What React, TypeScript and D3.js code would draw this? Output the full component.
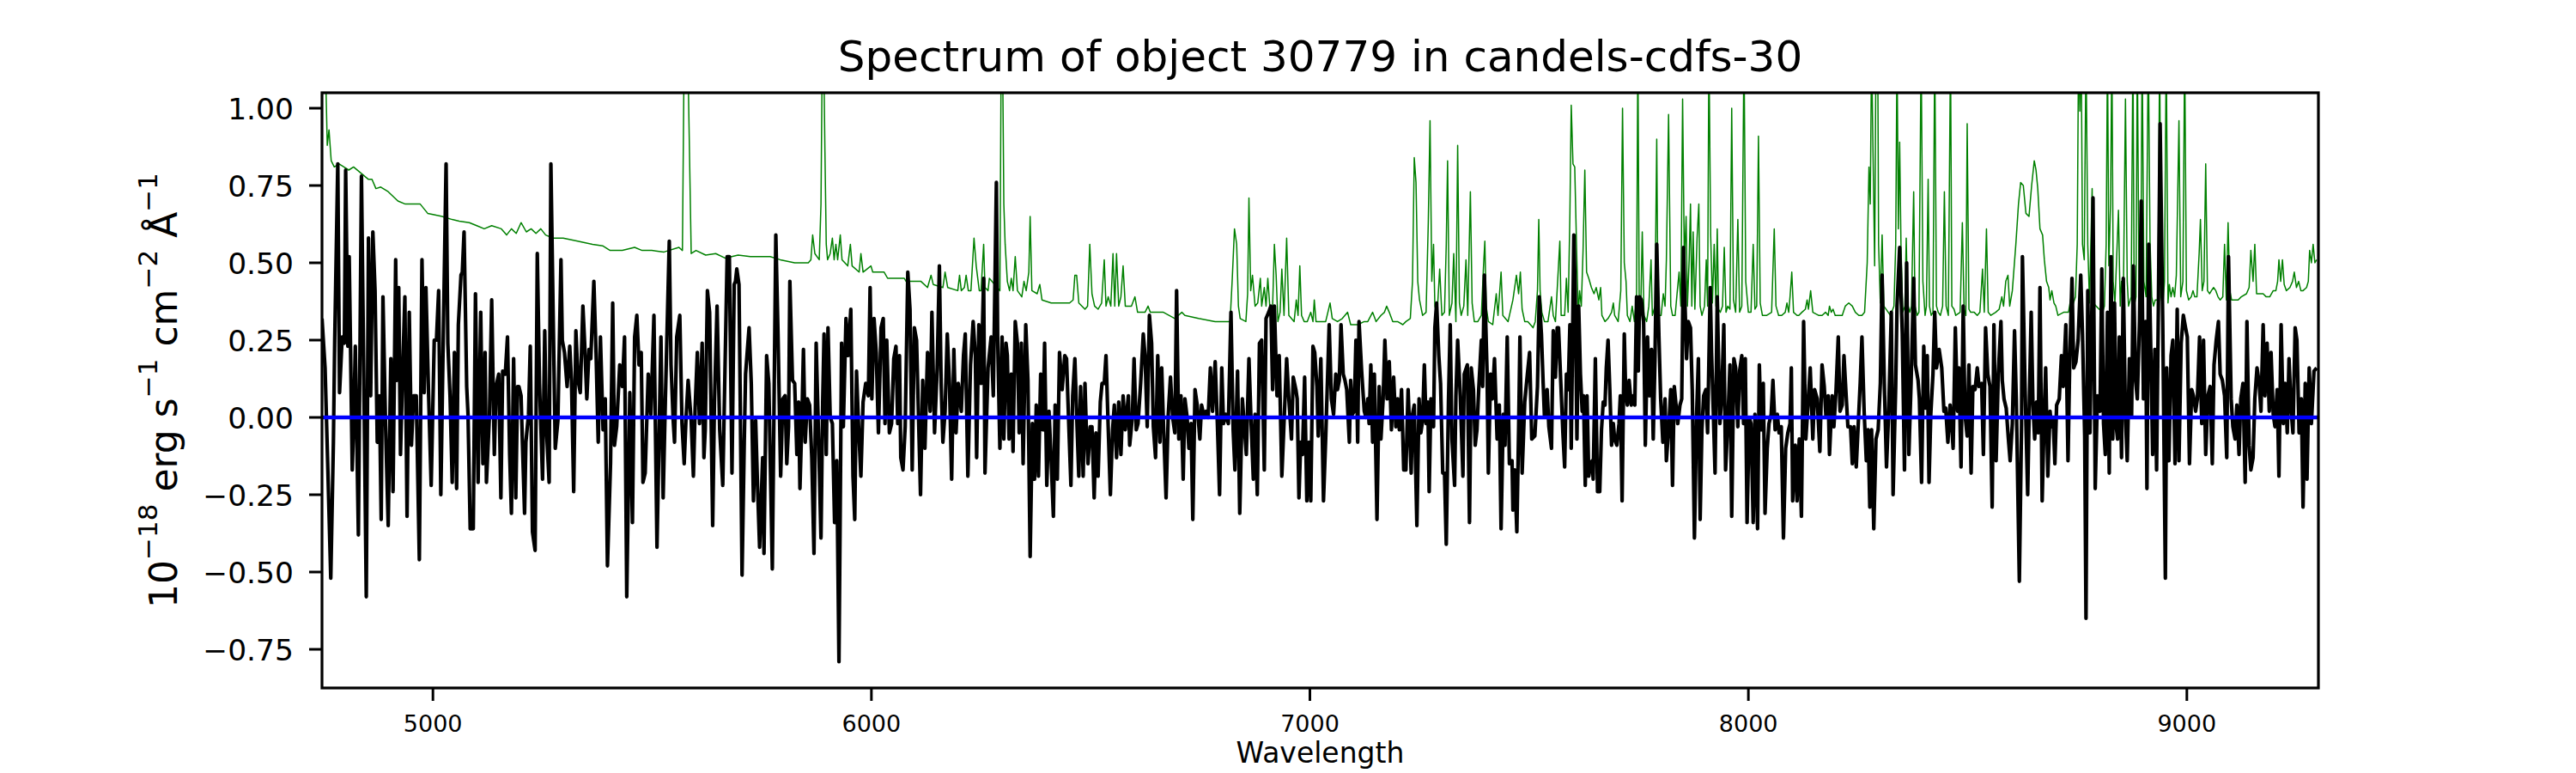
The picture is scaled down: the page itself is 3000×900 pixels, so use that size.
import * as d3 from "d3";

type Pt = [number, number];

const title = "Spectrum of object 30779 in candels-cdfs-30";
const xLabel = "Wavelength";
const xTicks = [5000, 6000, 7000, 8000, 9000];
const yTicks = [-0.75, -0.5, -0.25, 0, 0.25, 0.5, 0.75, 1.0];
const waveRange: Pt = [4747, 9300];
const fluxRange: Pt = [-0.875, 1.05];

// object flux, [wavelength, flux]
const flux4750: Pt[] = [[4747,0.32],[4754,0.16],[4760,-0.15],[4767,-0.52],[4773,-0.08],[4776,0.25],[4783,0.82],[4787,0.08],[4793,0.26],[4798,0.24],[4801,0.80],[4806,0.23],[4809,0.52],[4812,0.23],[4816,-0.17],[4819,-0.03],[4823,0.23],[4830,-0.38],[4837,0.78],[4843,0.05],[4848,-0.58],[4853,0.58],[4858,0.07],[4863,0.60],[4868,0.41],[4873,-0.08],[4878,0.07],[4882,-0.33],[4886,0.39],[4892,-0.03],[4898,-0.35],[4904,0.19],[4909,-0.24],[4915,0.51],[4918,0.12],[4922,0.42],[4926,-0.12],[4931,0.15],[4936,0.39],[4941,-0.32],[4946,0.34],[4951,-0.09],[4956,0.07],[4962,0.07],[4969,-0.46],[4975,0.51],[4980,0.08],[4984,0.42],[4990,0.08],[4996,-0.22],[5003,0.25],[5008,0.25],[5013,0.41],[5018,-0.25],[5024,0.30],[5030,0.82],[5034,0.24],[5039,0.07],[5044,-0.21],[5049,0.21],[5054,-0.23],[5058,0.30],[5064,0.46],[5067,0.47],[5071,0.60],[5077,0.10],[5080,0.01],[5085,-0.36],[5092,-0.36],[5097,0.40],[5103,-0.21],[5109,0.34],[5114,-0.15],[5119,0.21],[5122,-0.21],[5129,0.01],[5134,0.38],[5140,-0.12],[5144,0.10],[5150,0.14],[5155,-0.26],[5159,0.15],[5165,0.14],[5170,0.26],[5175,-0.12],[5179,-0.31],[5184,0.19],[5189,-0.26],[5193,0.10],[5196,0.10],[5201,0.07],[5204,-0.08],[5209,-0.31],[5212,-0.08],[5218,0.01],[5222,0.23],[5227,-0.37],[5233,-0.43],[5238,0.53],[5243,0.11],[5250,-0.20],[5255,0.28],[5259,-0.04],[5265,-0.21],[5269,0.82],[5274,0.35],[5279,-0.10],[5285,-0.01],[5292,0.51],[5295,0.25],[5300,0.21],[5306,0.10],[5312,0.23],[5316,0.12],[5321,-0.24],[5326,0.28],[5331,0.12],[5336,0.08],[5342,0.36],[5346,0.24],[5351,0.06],[5356,0.22],[5360,0.19],[5367,0.44],[5372,0.21],[5377,-0.08],[5382,0.26],[5388,-0.04],[5393,0.06],[5398,-0.48],[5405,-0.15],[5410,0.37],[5414,-0.09],[5419,-0.03],[5426,0.17],[5432,0.10],[5437,0.26],[5442,-0.58],[5449,0.08],[5455,-0.34],[5460,0.26],[5465,0.33],[5470,0.17],[5475,0.21],[5479,-0.21],[5484,-0.18],[5491,0.14],[5497,0.01],[5504,0.33],[5511,-0.42],[5520,0.26],[5525,-0.26],[5530,0.05],[5539,0.57],[5543,0.17],[5548,-0.01],[5551,-0.08],[5556,0.26],[5563,0.33],[5568,-0.02],[5573,-0.15],[5577,-0.01],[5582,0.12],[5589,-0.01],[5594,-0.19],[5598,0.03],[5603,0.21],[5608,-0.02],[5614,0.24],[5618,-0.13],[5621,-0.04],[5626,0.41],[5631,0.34],[5638,-0.35],[5642,0.05],[5648,0.36],[5654,-0.04],[5661,-0.22],[5666,0.15],[5671,0.52],[5676,0.52],[5682,-0.18],[5687,0.43],[5690,0.44],[5693,0.48],[5698,0.43],[5705,-0.51],[5710,-0.08],[5713,0.14],[5721,0.29],[5726,0.11],[5731,-0.27],[5736,-0.01],[5740,-0.21],[5745,-0.42],[5752,-0.13]];

const flux5750: Pt[] = [[5755,-0.44],[5761,0.20],[5766,0.11],[5774,-0.49],[5782,0.59],[5787,0.27],[5793,-0.19],[5798,0.06],[5803,0.07],[5807,-0.15],[5811,-0.03],[5814,0.44],[5820,0.12],[5825,0.11],[5830,-0.12],[5834,0.05],[5837,-0.23],[5841,-0.03],[5845,0.22],[5849,-0.08],[5854,0.06],[5859,0.04],[5864,-0.13],[5869,-0.44],[5874,0.24],[5878,0.02],[5885,-0.39],[5889,0.06],[5892,0.27],[5897,-0.12],[5901,0.29],[5906,0.00],[5911,-0.02],[5916,-0.34],[5921,-0.14],[5926,-0.79],[5932,0.24],[5936,-0.03],[5942,0.32],[5947,0.20],[5953,0.35],[5958,-0.19],[5962,-0.33],[5966,0.15],[5971,-0.04],[5976,-0.19],[5981,0.05],[5987,0.11],[5993,0.07],[5997,0.42],[6001,0.06],[6006,0.32],[6011,0.21],[6016,-0.05],[6022,0.29],[6027,0.32],[6031,-0.02],[6035,0.25],[6041,-0.05],[6046,-0.02],[6051,0.19],[6056,0.23],[6060,-0.02],[6064,0.20],[6067,-0.13],[6072,-0.17],[6077,-0.03],[6083,0.47],[6088,0.35],[6093,-0.17],[6098,0.29],[6103,0.25],[6108,-0.03],[6112,-0.25],[6117,0.12],[6122,-0.10],[6128,0.21],[6134,0.02],[6138,0.34],[6144,-0.05],[6150,0.16],[6155,0.49],[6159,0.11],[6163,-0.08],[6168,0.02],[6173,0.27],[6178,0.11],[6183,-0.20],[6188,0.22],[6193,-0.05],[6198,0.11],[6205,0.02],[6210,0.20],[6214,0.27],[6220,-0.19],[6226,0.17],[6232,0.31],[6237,0.20],[6240,-0.13],[6245,0.30],[6250,0.11],[6256,0.45],[6259,-0.18],[6266,0.16],[6273,0.26],[6278,0.07],[6285,0.76],[6288,0.25],[6293,-0.10],[6298,0.26],[6302,-0.07],[6307,0.24],[6310,0.20],[6314,-0.07],[6319,0.14],[6323,-0.11],[6328,0.31],[6333,0.24],[6337,-0.05],[6342,0.24],[6346,-0.15],[6352,0.30],[6357,0.12],[6362,-0.45],[6367,-0.02],[6372,-0.20],[6376,0.04],[6381,-0.19],[6386,0.14],[6391,-0.04],[6395,0.24],[6400,-0.22],[6405,0.02],[6410,-0.14],[6415,-0.32],[6419,0.04],[6424,-0.20],[6429,0.21],[6435,0.09],[6441,0.20],[6445,0.19],[6450,-0.02],[6455,-0.22],[6459,0.07],[6464,0.19],[6469,-0.03],[6473,-0.19],[6477,0.10],[6483,-0.19],[6487,0.11],[6490,-0.03],[6494,-0.15],[6499,-0.03],[6503,-0.03],[6508,-0.26],[6512,-0.05],[6517,-0.19],[6522,0.05],[6526,0.11],[6531,0.11],[6535,0.20],[6540,-0.03],[6545,-0.25],[6550,-0.04],[6554,0.04],[6559,-0.13],[6564,0.05],[6569,-0.12],[6574,0.07],[6579,-0.04],[6586,0.07],[6589,-0.09],[6595,0.00],[6599,0.19],[6604,-0.04],[6608,-0.02],[6614,0.11],[6620,0.27],[6624,0.20],[6629,-0.03],[6634,0.33],[6639,0.24],[6643,-0.03],[6648,-0.13],[6653,0.20],[6658,-0.08],[6662,0.16],[6666,-0.02],[6672,-0.26],[6677,0.01],[6682,0.13],[6687,0.00],[6692,-0.05],[6696,0.41],[6701,-0.07],[6706,0.07],[6711,-0.20],[6715,0.06],[6720,0.00],[6724,-0.10],[6729,-0.02],[6733,-0.33],[6738,0.09],[6743,0.04],[6749,-0.07],[6753,0.04],[6759,0.00],[6763,0.02],[6768,0.00],[6773,0.16],[6778,0.02],[6784,0.18],[6789,-0.02],[6794,-0.25],[6799,0.16],[6803,-0.02],[6808,0.01],[6814,-0.02],[6820,0.34],[6825,-0.04],[6829,-0.17],[6835,0.15],[6840,-0.31],[6846,0.06],[6851,-0.04],[6855,-0.12],[6861,0.19],[6866,-0.02],[6871,-0.20],[6875,0.01],[6880,-0.25],[6885,0.24],[6890,0.25],[6896,-0.17],[6900,0.32],[6906,0.34],[6911,0.36],[6915,0.09],[6919,0.36],[6925,0.07],[6930,0.20],[6936,-0.19]];

const flux6950: Pt[] = [[6947,0.19],[6952,0.06],[6958,-0.07],[6962,0.13],[6968,0.09],[6971,0.06],[6975,-0.26],[6979,-0.08],[6983,-0.12],[6988,0.13],[6993,-0.27],[6998,-0.08],[7002,-0.27],[7007,0.23],[7011,0.21],[7016,0.10],[7019,-0.06],[7025,0.19],[7031,-0.27],[7036,-0.07],[7044,0.30],[7049,0.06],[7054,0.01],[7059,0.14],[7063,0.09],[7067,0.12],[7071,0.30],[7076,0.14],[7080,0.12],[7084,0.09],[7090,-0.08],[7093,0.12],[7097,0.01],[7101,0.02],[7105,0.25],[7109,-0.08],[7112,0.31],[7118,0.15],[7124,0.02],[7128,0.00],[7132,0.06],[7135,-0.02],[7139,0.17],[7143,-0.08],[7147,0.14],[7153,-0.33],[7158,0.10],[7162,-0.07],[7167,0.06],[7171,0.25],[7176,0.06],[7181,0.18],[7186,-0.04],[7191,0.13],[7196,-0.03],[7200,0.06],[7204,-0.04],[7209,0.09],[7214,-0.17],[7219,-0.17],[7224,0.09],[7231,-0.18],[7234,0.01],[7238,0.04],[7244,-0.35],[7249,0.06],[7253,-0.05],[7257,-0.01],[7261,0.17],[7265,-0.02],[7269,0.05],[7272,-0.24],[7276,0.06],[7282,-0.03],[7285,0.29],[7289,0.37],[7294,0.20],[7298,0.11],[7303,-0.18],[7307,-0.18],[7311,-0.41],[7316,0.05],[7320,0.30],[7324,-0.07],[7330,-0.22],[7333,0.07],[7337,0.25],[7343,0.07],[7349,-0.19],[7352,0.14],[7359,0.17],[7364,-0.34],[7368,0.16],[7373,0.09],[7377,-0.09],[7381,-0.04],[7385,0.09],[7391,0.25],[7394,0.10],[7398,0.46],[7404,0.15],[7407,-0.18],[7412,0.14],[7416,0.06],[7421,0.19],[7427,-0.07],[7432,0.04],[7436,-0.36],[7441,0.01],[7445,-0.09],[7450,0.26],[7455,-0.15],[7461,-0.14],[7463,-0.30],[7467,-0.17],[7472,-0.37],[7476,-0.04],[7479,0.26],[7484,-0.18],[7490,0.05],[7496,0.14],[7501,0.21],[7506,-0.07],[7513,-0.06],[7519,0.10],[7523,0.39],[7528,0.27],[7532,0.11],[7535,0.00],[7541,0.09],[7545,-0.03],[7551,-0.10],[7555,0.28],[7560,0.13],[7564,0.29],[7567,0.29],[7572,0.12],[7577,-0.05],[7581,-0.16],[7585,0.14],[7589,0.09],[7593,0.30],[7596,-0.10],[7602,0.59],[7605,0.41],[7609,-0.07],[7613,0.36],[7617,0.14],[7621,0.02],[7624,0.07],[7628,-0.22],[7632,0.07],[7636,-0.19],[7640,-0.15],[7644,-0.14],[7646,-0.20],[7651,0.19],[7656,-0.24],[7661,-0.24],[7665,-0.04],[7669,0.05],[7673,0.04],[7676,0.16],[7680,0.25],[7684,0.09],[7688,-0.09],[7692,-0.02],[7695,-0.07],[7700,-0.09],[7705,-0.02],[7708,0.07],[7712,-0.27],[7717,0.27],[7720,0.09],[7724,0.04],[7728,0.12],[7733,0.04],[7737,0.07],[7741,0.04],[7745,0.39],[7749,0.15],[7752,0.39],[7756,0.38],[7761,0.31],[7765,-0.09],[7770,0.26],[7774,0.07],[7779,0.22],[7783,-0.07],[7787,0.19],[7791,0.56],[7796,0.26],[7800,0.06],[7805,-0.08],[7810,0.06],[7813,-0.14],[7819,-0.02],[7823,0.09],[7827,-0.22],[7831,0.10],[7835,0.04],[7839,-0.02],[7844,0.04],[7848,0.06],[7852,0.55],[7855,0.39],[7859,0.19],[7863,0.31],[7868,0.29],[7872,0.09],[7877,-0.39],[7882,0.01],[7886,0.19],[7890,-0.33],[7894,-0.04],[7898,0.07],[7903,0.09],[7907,-0.05],[7913,0.42],[7916,0.21],[7920,0.02],[7924,-0.18],[7929,0.39],[7935,-0.02],[7939,0.06],[7944,0.30],[7948,-0.17],[7953,-0.02],[7958,0.17],[7962,-0.32],[7967,0.19],[7971,0.16],[7976,-0.03],[7980,0.15],[7985,0.20],[7989,-0.02],[7993,0.19],[7997,-0.34],[8002,0.00],[8006,-0.02],[8011,-0.34],[8015,0.01],[8021,-0.36],[8025,0.17],[8029,-0.04],[8034,0.11],[8038,-0.31],[8043,-0.10],[8047,-0.02],[8052,0.01],[8056,0.12],[8061,-0.04],[8066,0.01],[8070,-0.05],[8075,-0.03],[8080,-0.39],[8085,-0.10],[8090,-0.05],[8095,-0.02],[8098,0.16],[8101,-0.27],[8107,-0.09],[8111,-0.27],[8116,-0.07],[8121,-0.32],[8126,0.31]];

const flux8130: Pt[] = [[8131,-0.07],[8136,0.04],[8141,0.16],[8147,-0.07],[8151,0.09],[8157,0.06],[8163,-0.11],[8168,0.17],[8173,0.10],[8177,0.00],[8182,0.07],[8185,-0.12],[8191,0.07],[8195,-0.03],[8200,0.09],[8205,0.26],[8209,0.02],[8214,0.04],[8218,0.20],[8223,0.07],[8227,-0.03],[8233,-0.03],[8237,-0.15],[8241,-0.03],[8246,-0.16],[8250,-0.04],[8255,0.11],[8259,0.26],[8264,0.02],[8269,-0.14],[8273,-0.04],[8277,-0.29],[8281,-0.04],[8286,-0.36],[8291,-0.07],[8296,-0.04],[8301,0.11],[8305,0.46],[8310,0.11],[8315,-0.16],[8320,0.02],[8326,0.34],[8330,-0.25],[8336,0.10],[8339,0.36],[8345,0.55],[8351,0.27],[8356,-0.17],[8361,0.50],[8366,-0.12],[8371,0.11],[8377,0.45],[8381,0.17],[8387,0.12],[8390,0.06],[8395,-0.21],[8400,0.23],[8404,0.03],[8408,0.20],[8412,-0.21],[8416,0.01],[8421,0.14],[8425,0.34],[8429,0.16],[8435,0.22],[8441,0.16],[8446,0.02],[8450,0.03],[8455,-0.08],[8460,0.04],[8464,-0.03],[8467,-0.10],[8472,0.29],[8477,0.02],[8480,0.16],[8485,-0.16],[8490,0.36],[8494,0.01],[8499,-0.06],[8503,0.17],[8508,-0.18],[8512,0.10],[8517,0.09],[8522,0.16],[8526,0.10],[8532,0.11],[8536,-0.12],[8541,0.29],[8546,0.14],[8551,0.10],[8556,-0.29],[8560,0.30],[8565,-0.14],[8570,0.14],[8576,0.31],[8579,0.12],[8583,0.06],[8588,0.03],[8593,-0.07],[8597,-0.14],[8602,-0.02],[8607,0.28],[8611,0.06],[8618,-0.53],[8623,-0.02],[8625,0.52],[8631,0.10],[8637,-0.25],[8641,0.07],[8645,0.34],[8649,0.04],[8653,-0.07],[8657,0.05],[8661,-0.05],[8665,0.42],[8670,-0.27],[8675,0.02],[8678,0.16],[8683,-0.19],[8688,0.02],[8691,-0.03],[8695,0.00],[8699,-0.15],[8703,0.04],[8709,0.06],[8714,0.20],[8718,0.10],[8724,0.30],[8729,-0.14],[8733,0.19],[8738,0.45],[8742,0.16],[8747,0.18],[8752,0.25],[8758,0.46],[8762,0.27],[8767,-0.06],[8770,-0.65],[8774,0.41],[8779,-0.05],[8784,0.41],[8786,0.71],[8791,-0.23],[8796,0.07],[8802,0.02],[8806,0.48],[8810,-0.02],[8814,-0.12],[8819,0.34],[8823,-0.18],[8827,0.52],[8831,-0.07],[8835,0.37],[8839,-0.03],[8842,-0.07],[8846,0.26],[8851,-0.13],[8855,0.45],[8860,0.00],[8864,-0.14],[8869,0.19],[8874,0.00],[8878,0.49],[8883,0.12],[8887,0.06],[8892,0.31],[8896,0.70],[8901,0.06],[8906,0.31],[8909,-0.23],[8913,0.56],[8918,0.20],[8922,-0.12],[8927,0.22],[8931,-0.17],[8935,0.35],[8939,0.95],[8945,0.31],[8951,-0.52],[8954,0.16],[8959,-0.14],[8964,0.20],[8968,0.25],[8973,-0.15],[8978,0.35],[8982,-0.14],[8987,0.24],[8992,0.33],[8997,0.29],[9001,0.26],[9006,-0.15],[9011,0.09],[9015,0.07],[9020,0.02],[9024,0.06],[9029,0.26],[9034,-0.02],[9038,0.25],[9043,-0.12],[9048,0.07],[9053,0.10],[9058,-0.15],[9062,0.17],[9067,0.25],[9072,0.31],[9076,0.14],[9081,0.12],[9086,0.07],[9091,-0.13],[9095,0.52],[9101,0.06],[9105,-0.03],[9110,-0.07],[9114,0.04],[9119,-0.12],[9123,0.06],[9128,0.11],[9133,-0.21],[9137,0.31],[9142,-0.09],[9146,-0.17],[9151,-0.13],[9155,0.06],[9160,0.16],[9165,0.11],[9169,0.02],[9174,0.30],[9178,0.07],[9183,0.24],[9188,0.02],[9192,0.21],[9197,0.01],[9201,-0.03],[9206,0.09],[9210,-0.19],[9215,0.30],[9220,-0.02],[9224,0.11],[9229,-0.05],[9233,0.19],[9238,0.02],[9242,-0.05],[9247,0.29],[9251,0.25],[9256,-0.05],[9261,0.06],[9265,-0.29],[9270,0.11],[9274,-0.20],[9279,0.16],[9284,-0.02],[9290,0.15],[9296,0.16]];

// noise (green) spectrum, sky lines run off the top
const noise4750: Pt[] = [[4747,1.2],[4754,1.2],[4759,0.88],[4763,0.93],[4768,0.83],[4775,0.81],[4786,0.82],[4797,0.81],[4808,0.80],[4819,0.81],[4836,0.79],[4853,0.77],[4861,0.77],[4870,0.74],[4881,0.745],[4898,0.73],[4920,0.70],[4937,0.69],[4954,0.69],[4971,0.69],[4988,0.66],[5005,0.655],[5021,0.65],[5044,0.64],[5060,0.635],[5083,0.63],[5100,0.62],[5117,0.61],[5134,0.62],[5156,0.61],[5168,0.59],[5179,0.61],[5190,0.595],[5201,0.63],[5213,0.60],[5224,0.61],[5235,0.595],[5246,0.61],[5257,0.59],[5274,0.58],[5297,0.58],[5330,0.57],[5364,0.56],[5387,0.555],[5404,0.54],[5432,0.54],[5460,0.55],[5477,0.54],[5499,0.54],[5527,0.535],[5561,0.55],[5569,0.54],[5573,1.2],[5581,1.2],[5589,0.53],[5600,0.54],[5622,0.525],[5645,0.53],[5667,0.515],[5696,0.525],[5724,0.52],[5752,0.52]];

const noise5750: Pt[] = [[5755,0.52],[5769,0.52],[5792,0.51],[5825,0.50],[5856,0.50],[5862,0.51],[5866,0.59],[5871,0.53],[5881,0.51],[5885,0.69],[5888,1.2],[5891,1.2],[5894,0.86],[5897,0.56],[5900,0.51],[5906,0.53],[5911,0.58],[5915,0.51],[5919,0.56],[5923,0.51],[5929,0.59],[5933,0.51],[5946,0.49],[5952,0.56],[5956,0.49],[5972,0.47],[5976,0.53],[5981,0.47],[5999,0.49],[6003,0.47],[6029,0.47],[6037,0.45],[6075,0.45],[6079,0.44],[6113,0.44],[6128,0.42],[6136,0.46],[6141,0.43],[6163,0.42],[6168,0.47],[6174,0.42],[6197,0.41],[6201,0.46],[6205,0.41],[6212,0.42],[6216,0.46],[6221,0.41],[6227,0.41],[6234,0.58],[6239,0.49],[6246,0.41],[6250,0.41],[6256,0.56],[6259,0.42],[6266,0.41],[6269,0.45],[6281,0.43],[6293,0.41],[6296,1.2],[6299,1.2],[6302,0.69],[6305,0.56],[6310,0.44],[6315,0.41],[6319,0.45],[6323,0.41],[6328,0.52],[6333,0.41],[6343,0.39],[6348,0.44],[6353,0.41],[6359,0.47],[6362,0.65],[6366,0.41],[6378,0.40],[6384,0.43],[6389,0.38],[6410,0.37],[6426,0.37],[6452,0.37],[6460,0.38],[6464,0.46],[6468,0.46],[6473,0.37],[6487,0.35],[6493,0.36],[6498,0.56],[6503,0.40],[6509,0.36],[6517,0.35],[6525,0.37],[6531,0.51],[6535,0.36],[6540,0.39],[6546,0.36],[6551,0.53],[6555,0.36],[6559,0.53],[6564,0.36],[6569,0.39],[6574,0.49],[6579,0.36],[6593,0.36],[6601,0.39],[6607,0.34],[6624,0.34],[6631,0.36],[6636,0.34],[6662,0.34],[6666,0.34],[6692,0.32],[6708,0.34],[6715,0.33],[6746,0.32],[6784,0.31],[6807,0.31],[6818,0.31],[6823,0.45],[6828,0.61],[6833,0.56],[6837,0.36],[6841,0.32],[6854,0.31],[6858,0.40],[6861,0.71],[6865,0.41],[6869,0.46],[6875,0.36],[6881,0.37],[6887,0.45],[6890,0.36],[6896,0.42],[6900,0.36],[6904,0.45],[6909,0.35],[6915,0.36],[6919,0.56],[6923,0.46],[6927,0.31],[6932,0.34],[6936,0.48]];

const noise6950: Pt[] = [[6941,0.33],[6947,0.58],[6952,0.33],[6964,0.31],[6969,0.38],[6973,0.33],[6977,0.49],[6981,0.33],[6987,0.31],[6994,0.31],[7002,0.34],[7007,0.31],[7010,0.38],[7014,0.31],[7025,0.31],[7036,0.31],[7046,0.37],[7051,0.32],[7063,0.31],[7074,0.32],[7086,0.34],[7093,0.30],[7109,0.30],[7124,0.31],[7132,0.31],[7143,0.34],[7151,0.31],[7162,0.33],[7170,0.34],[7175,0.36],[7181,0.34],[7189,0.31],[7200,0.31],[7212,0.30],[7219,0.31],[7229,0.32],[7234,0.44],[7238,0.84],[7242,0.76],[7246,0.44],[7250,0.38],[7257,0.33],[7265,0.34],[7270,0.63],[7274,0.96],[7278,0.44],[7282,0.56],[7285,0.36],[7290,0.33],[7296,0.48],[7301,0.33],[7307,0.34],[7311,0.56],[7314,0.83],[7318,0.33],[7324,0.37],[7328,0.53],[7333,0.31],[7337,0.88],[7341,0.37],[7345,0.33],[7351,0.36],[7356,0.51],[7360,0.33],[7366,0.73],[7370,0.37],[7375,0.31],[7383,0.31],[7391,0.33],[7396,0.49],[7399,0.57],[7402,0.36],[7407,0.31],[7417,0.30],[7425,0.40],[7429,0.33],[7436,0.47],[7440,0.33],[7452,0.31],[7463,0.38],[7471,0.46],[7476,0.40],[7480,0.47],[7484,0.35],[7490,0.31],[7497,0.31],[7509,0.29],[7514,0.31],[7519,0.41],[7522,0.64],[7525,0.41],[7529,0.34],[7535,0.31],[7543,0.31],[7551,0.39],[7555,0.33],[7560,0.31],[7570,0.57],[7573,0.33],[7581,0.33],[7585,0.45],[7589,0.34],[7593,0.66],[7596,1.01],[7600,0.82],[7604,0.81],[7608,0.56],[7612,0.33],[7615,0.41],[7619,0.36],[7623,0.54],[7627,0.80],[7631,0.47],[7636,0.45],[7642,0.42],[7648,0.40],[7653,0.42],[7659,0.38],[7663,0.42],[7666,0.33],[7673,0.31],[7680,0.32],[7688,0.34],[7692,0.37],[7695,0.33],[7703,0.31],[7709,0.41],[7713,1.00],[7717,0.50],[7721,0.44],[7724,0.33],[7730,0.31],[7735,0.36],[7740,0.31],[7745,0.39],[7748,1.2],[7751,0.37],[7755,0.38],[7758,0.60],[7762,0.33],[7768,0.31],[7773,0.36],[7778,0.51],[7781,0.33],[7787,0.36],[7791,0.90],[7794,0.33],[7801,0.33],[7806,0.40],[7810,0.36],[7813,0.51],[7818,0.98],[7823,0.36],[7827,0.33],[7833,0.33],[7838,0.41],[7842,0.47],[7846,0.36],[7850,1.03],[7854,0.50],[7858,0.65],[7861,0.36],[7865,0.51],[7868,0.69],[7871,0.36],[7874,0.60],[7878,0.35],[7883,0.58],[7887,0.69],[7890,0.36],[7894,0.33],[7900,0.36],[7904,0.51],[7907,0.36],[7910,1.2],[7914,0.59],[7918,0.37],[7922,0.56],[7926,0.36],[7929,0.61],[7932,0.35],[7936,0.34],[7941,0.36],[7945,0.55],[7949,0.34],[7953,0.36],[7958,0.35],[7962,1.00],[7966,0.38],[7971,0.34],[7976,0.64],[7980,0.34],[7985,0.36],[7990,1.2],[7994,0.44],[8000,0.34],[8006,0.34],[8011,0.56],[8015,0.35],[8019,0.36],[8023,0.91],[8027,0.37],[8032,0.33],[8042,0.33],[8053,0.34],[8059,0.61],[8063,0.36],[8069,0.33],[8076,0.33],[8084,0.34],[8088,0.37],[8092,0.34],[8095,0.39],[8099,0.47],[8103,0.34],[8111,0.33]];

const noise8130: Pt[] = [[8115,0.33],[8122,0.34],[8130,0.35],[8134,0.38],[8137,0.35],[8142,0.41],[8147,0.34],[8160,0.33],[8168,0.33],[8176,0.34],[8182,0.33],[8185,0.36],[8189,0.34],[8193,0.35],[8198,0.33],[8214,0.33],[8221,0.36],[8229,0.37],[8237,0.36],[8244,0.34],[8252,0.33],[8259,0.33],[8265,0.34],[8271,0.50],[8275,0.81],[8278,0.69],[8281,1.2],[8284,0.88],[8286,0.69],[8288,0.49],[8291,1.2],[8295,1.2],[8297,0.56],[8301,0.37],[8305,0.59],[8309,0.36],[8319,0.34],[8324,0.33],[8332,0.36],[8336,0.56],[8339,1.2],[8342,0.61],[8345,0.89],[8348,0.56],[8352,0.34],[8357,0.36],[8360,0.58],[8363,0.37],[8368,0.34],[8372,0.36],[8377,0.73],[8380,0.36],[8385,0.33],[8389,0.34],[8394,1.2],[8398,0.44],[8403,0.33],[8406,0.36],[8410,0.77],[8413,0.36],[8417,0.33],[8421,0.34],[8425,1.2],[8429,0.36],[8433,0.34],[8438,0.33],[8443,0.36],[8447,0.73],[8451,0.36],[8456,0.33],[8461,1.2],[8464,0.36],[8469,0.35],[8473,0.33],[8483,0.34],[8488,0.63],[8492,0.35],[8496,0.33],[8499,0.95],[8503,0.35],[8507,0.34],[8515,0.34],[8522,0.33],[8528,0.34],[8534,0.48],[8538,0.34],[8543,0.61],[8547,0.34],[8553,0.33],[8564,0.34],[8572,0.35],[8578,0.39],[8582,0.36],[8587,0.44],[8592,0.46],[8596,0.36],[8602,0.41],[8610,0.56],[8616,0.69],[8621,0.76],[8627,0.75],[8633,0.66],[8640,0.65],[8646,0.75],[8652,0.83],[8656,0.80],[8660,0.74],[8665,0.61],[8671,0.59],[8675,0.51],[8680,0.44],[8685,0.42],[8688,0.38],[8692,0.41],[8697,0.37],[8701,0.36],[8706,0.33],[8719,0.34],[8730,0.34],[8736,0.39],[8739,0.36],[8746,0.39],[8750,0.56],[8753,1.2],[8756,0.99],[8759,1.2],[8762,0.56],[8766,0.51],[8770,1.2],[8774,0.56],[8778,0.37],[8781,0.56],[8784,0.74],[8787,0.37],[8793,0.36],[8800,0.35],[8808,0.34],[8812,0.36],[8816,0.56],[8819,1.2],[8822,0.49],[8826,0.69],[8829,1.2],[8832,0.44],[8836,0.37],[8840,0.52],[8844,0.67],[8848,0.36],[8851,0.44],[8855,0.36],[8860,1.03],[8864,0.44],[8867,0.36],[8873,0.39],[8877,1.2],[8880,0.36],[8884,0.39],[8887,1.2],[8891,0.39],[8895,0.44],[8898,1.2],[8902,0.44],[8907,0.39],[8912,1.2],[8916,0.57],[8920,0.39],[8924,0.36],[8928,0.38],[8934,0.38],[8938,1.2],[8941,0.39],[8945,0.36],[8949,0.44],[8953,1.2],[8957,0.37],[8960,0.43],[8964,0.39],[8968,0.42],[8972,0.39],[8976,0.46],[8982,0.96],[8986,0.39],[8991,0.44],[8995,1.2],[8999,0.41],[9004,0.38],[9010,0.39],[9014,0.41],[9018,0.39],[9023,0.39],[9028,0.53],[9031,0.64],[9035,0.41],[9039,0.44],[9043,0.82],[9047,0.41],[9052,0.40],[9056,0.41],[9061,0.42],[9066,0.41],[9071,0.39],[9076,0.38],[9082,0.39],[9086,0.56],[9090,0.38],[9094,0.63],[9098,0.41],[9102,0.38],[9117,0.38],[9124,0.39],[9136,0.40],[9142,0.42],[9146,0.54],[9151,0.44],[9155,0.56],[9159,0.40],[9165,0.40],[9174,0.40],[9181,0.39],[9189,0.39],[9197,0.41],[9203,0.41],[9207,0.44],[9210,0.51],[9214,0.44],[9218,0.51],[9222,0.43],[9227,0.41],[9235,0.42],[9241,0.44],[9245,0.47],[9250,0.42],[9255,0.44],[9260,0.41],[9265,0.41],[9273,0.42],[9277,0.44],[9280,0.54],[9284,0.50],[9288,0.56],[9292,0.50],[9296,0.51]];

const flux = [...flux4750, ...flux5750, ...flux6950, ...flux8130];
const noise = [...noise4750, ...noise5750, ...noise6950, ...noise8130];

const font = "DejaVu Sans";

export default function App() {
  const width = 3000;
  const height = 900;
  const m = { left: 375, right: 2700, top: 108, bottom: 801 };

  const x = d3.scaleLinear().domain(waveRange).range([m.left, m.right]);
  const y = d3.scaleLinear().domain(fluxRange).range([m.bottom, m.top]);
  const line = d3.line<Pt>().x((d) => x(d[0])).y((d) => y(d[1]));
  const fmt = d3.format(".2f");
  const zero: Pt[] = [[waveRange[0], 0], [waveRange[1], 0]];

  return (
    <svg
      width={width}
      height={height}
      style={{ position: "absolute", left: 0, top: 0, background: "#fff" }}
      fontFamily={font}
    >
      <defs>
        <clipPath id="plot-clip">
          <rect x={m.left} y={m.top} width={m.right - m.left} height={m.bottom - m.top} />
        </clipPath>
      </defs>

      <text x={(m.left + m.right) / 2} y={83} fontSize={50} textAnchor="middle">
        {title}
      </text>

      <g clipPath="url(#plot-clip)" fill="none" strokeLinejoin="round">
        <path d={line(noise) || ""} stroke="#008000" strokeWidth={1.5} />
        <path d={line(flux) || ""} stroke="#000" strokeWidth={4.2} />
        <path d={line(zero) || ""} stroke="#0000ff" strokeWidth={4.5} />
      </g>

      <rect
        x={m.left}
        y={m.top}
        width={m.right - m.left}
        height={m.bottom - m.top}
        fill="none"
        stroke="#000"
        strokeWidth={3.2}
      />

      {xTicks.map((t) => (
        <g key={`xt-${t}`}>
          <line x1={x(t)} x2={x(t)} y1={m.bottom} y2={m.bottom + 15} stroke="#000" strokeWidth={3} />
          <text x={x(t)} y={852} fontSize={27} textAnchor="middle">{t}</text>
        </g>
      ))}

      {yTicks.map((t) => (
        <g key={`yt-${t}`}>
          <line x1={m.left - 15} x2={m.left} y1={y(t)} y2={y(t)} stroke="#000" strokeWidth={3} />
          <text x={342} y={y(t) + 12.5} fontSize={34.5} textAnchor="end">{fmt(t)}</text>
        </g>
      ))}

      <text x={(m.left + m.right) / 2} y={888} fontSize={33} textAnchor="middle">
        {xLabel}
      </text>

      <text transform={`translate(206,${(m.top + m.bottom) / 2}) rotate(-90)`} fontSize={44} textAnchor="middle">
        <tspan>10</tspan>
        <tspan fontSize={31} dy={-23}>−18</tspan>
        <tspan dy={23}> erg s</tspan>
        <tspan fontSize={31} dy={-23}>−1</tspan>
        <tspan dy={23}> cm</tspan>
        <tspan fontSize={31} dy={-23}>−2</tspan>
        <tspan dy={23}> Å</tspan>
        <tspan fontSize={31} dy={-23}>−1</tspan>
      </text>
    </svg>
  );
}
